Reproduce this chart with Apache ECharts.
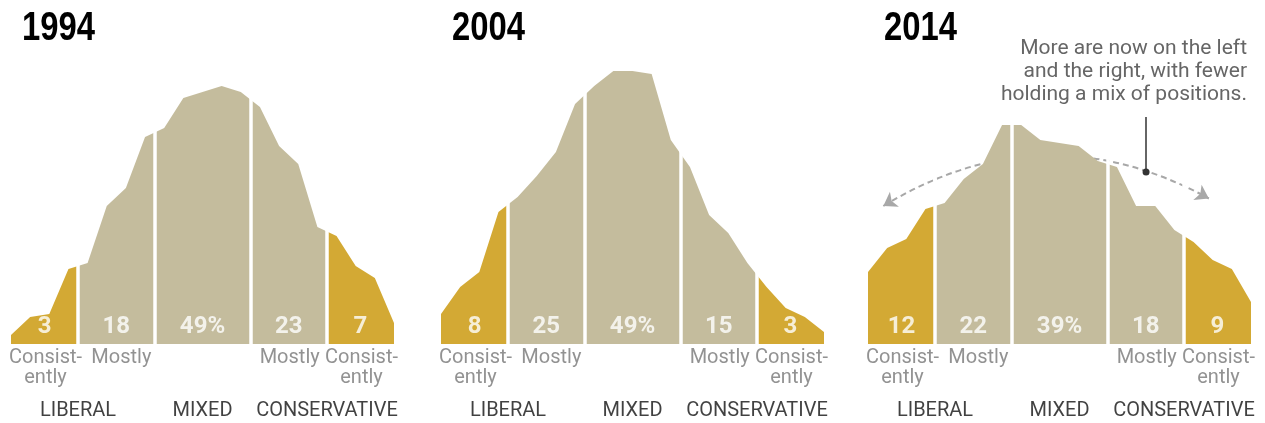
<!DOCTYPE html>
<html>
<head>
<meta charset="utf-8">
<script src="https://cdn.jsdelivr.net/npm/echarts@6/dist/echarts.min.js"></script>
<style>
  html, body { margin: 0; padding: 0; background: #fff; }
  #chart { width: 1265px; height: 423px; }
</style>
</head>
<body>
<div id="chart"></div>
<script>
// ---- Data ----
const years = ['1994', '2004', '2014'];
// ideological consistency scale points, -10 (consistently liberal) .. +10 (consistently conservative)
const scalePoints = [-10,-9,-8,-7,-6,-5,-4,-3,-2,-1,0,1,2,3,4,5,6,7,8,9,10];
// share of public at each scale point (%)
const dist1994 = [0.3,0.9,1.0,2.5,2.7,4.6,5.2,6.9,7.2,8.2,8.4,8.6,8.4,7.9,6.6,6.0,3.9,3.6,2.6,2.2,0.7];
const dist2004 = [1.0,1.9,2.4,4.4,4.9,5.6,6.4,8.0,8.6,9.1,9.1,9.0,6.8,5.9,4.3,3.7,2.7,1.9,1.2,0.9,0.4];
const dist2014 = [2.4,3.2,3.5,4.5,4.7,5.5,6.0,7.3,7.3,6.8,6.7,6.6,6.1,5.9,4.6,4.6,3.8,3.4,2.8,2.5,1.4];
// category boundaries on the scale
const segBounds = [-10, -6.5, -2.5, 2.5, 6.5, 10];
// summary shares per category (%)
const shares1994 = [3, 18, 49, 23, 7];
const shares2004 = [8, 25, 49, 15, 3];
const shares2014 = [12, 22, 39, 18, 9];
const segLabels = ['Consist-\nently', 'Mostly', '', 'Mostly', 'Consist-\nently'];
const groupLabels = ['LIBERAL', 'MIXED', 'CONSERVATIVE'];
const annotationText = 'More are now on the left\nand the right, with fewer\nholding a mix of positions.';

// ---- Styles ----
const GOLD = '#D3A934';
const TAN = '#C4BC9D';
const FONT = 'Roboto, "Noto Sans", sans-serif';
const gridLefts = [11, 441, 868];
const titleLefts = [22, 452, 884];
const gridWidth = 383;
const gridTop = 44;
const gridHeight = 300;

const dists = [dist1994, dist2004, dist2014];
const sharesAll = [shares1994, shares2004, shares2014];

const chart = echarts.init(document.getElementById('chart'), null, { renderer: 'canvas' });

const grids = [], xAxes = [], yAxes = [], series = [], graphics = [];
years.forEach((yr, i) => {
  grids.push({ left: gridLefts[i], top: gridTop, width: gridWidth, height: gridHeight });
  xAxes.push({ type: 'value', gridIndex: i, min: -10, max: 10, show: false });
  yAxes.push({ type: 'value', gridIndex: i, min: 0, max: 10, show: false });
  graphics.push({
    type: 'text', x: titleLefts[i], y: 9, scaleX: 0.82, z: 100,
    style: { text: yr, font: 'bold 40px "Liberation Sans", Arial, sans-serif', fill: '#000', textVerticalAlign: 'top' }
  });
});

// area series
years.forEach((yr, i) => {
  series.push({
    type: 'line', xAxisIndex: i, yAxisIndex: i, z: 2,
    data: scalePoints.map((x, k) => [x, dists[i][k]]),
    symbol: 'none', silent: true,
    lineStyle: { width: 0 },
    areaStyle: { opacity: 1 },
    markLine: {
      silent: true, symbol: 'none', label: { show: false },
      lineStyle: { color: '#fff', width: 3.5, type: 'solid' },
      data: segBounds.slice(1, -1).map(b => ({ xAxis: b }))
    }
  });
});

// labels
years.forEach((yr, i) => {
  const data = [];
  for (let s = 0; s < 5; s++) {
    const c = (segBounds[s] + segBounds[s + 1]) / 2;
    data.push({
      value: [c, 0], name: String(sharesAll[i][s]) + (s === 2 ? '%' : ''),
      label: { offset: [0, -17.5], color: '#fff', fontWeight: 'bold', fontSize: 24, verticalAlign: 'middle' }
    });
    if (segLabels[s]) {
      data.push({
        value: [c, 0], name: segLabels[s],
        label: { offset: [s === 1 ? 5 : 1, 4], color: '#777', fontSize: 20, lineHeight: 20, verticalAlign: 'top' }
      });
    }
  }
  groupLabels.forEach((g, gi) => {
    data.push({
      value: [[segBounds[1], 0, segBounds[4]][gi], 0], name: g,
      label: { offset: [0, 66.5], color: '#111', fontSize: 20, verticalAlign: 'middle' }
    });
  });
  series.push({
    type: 'scatter', xAxisIndex: i, yAxisIndex: i, z: 10, silent: true,
    symbolSize: 0, data: data,
    label: { show: true, position: 'inside', align: 'center', fontFamily: FONT, formatter: p => p.name }
  });
});

// annotation: dashed arc with arrows and leader line (2014 panel)
series.push({
  type: 'lines', coordinateSystem: 'cartesian2d', xAxisIndex: 2, yAxisIndex: 2, z: 1, silent: true,
  symbol: ['arrow', 'arrow'], symbolSize: 13,
  lineStyle: { color: '#a8a8a8', width: 2, type: [6, 4], curveness: 0.288, opacity: 1 },
  data: [{ coords: [[-9.2, 4.6], [7.8, 4.85]] }]
});
series.push({
  type: 'lines', coordinateSystem: 'cartesian2d', xAxisIndex: 2, yAxisIndex: 2, z: 12, silent: true,
  symbol: ['none', 'circle'], symbolSize: 7,
  lineStyle: { color: '#333', width: 1.5, opacity: 1 },
  data: [{ coords: [[4.52, 7.57], [4.52, 5.73]] }]
});

graphics.push({
  type: 'text', z: 100, right: 18, top: 37,
  style: { text: annotationText, font: '21px ' + FONT, fill: '#666', lineHeight: 23, textAlign: 'right' }
});

chart.setOption({
  animation: false,
  backgroundColor: '#fff',
  grid: grids,
  xAxis: xAxes,
  yAxis: yAxes,
  visualMap: {
    type: 'piecewise', show: false, dimension: 0, seriesIndex: [0, 1, 2],
    pieces: [
      { lt: segBounds[1], color: GOLD },
      { gte: segBounds[1], lte: segBounds[4], color: TAN },
      { gt: segBounds[4], color: GOLD }
    ]
  },
  graphic: graphics,
  series: series
});
</script>
</body>
</html>
